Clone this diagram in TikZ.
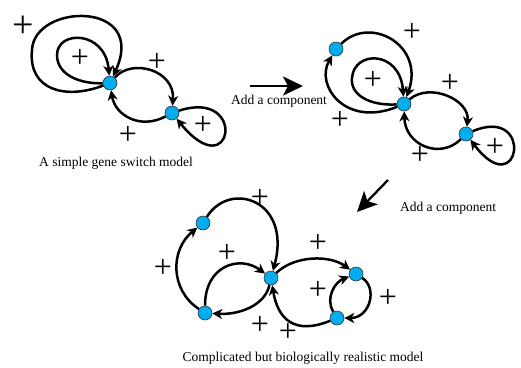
\documentclass[tikz,border=0pt]{standalone}
\usepackage{fontspec}
\setmainfont{Liberation Serif}
\usetikzlibrary{arrows.meta}
\definecolor{genecyan}{RGB}{0,174,239}

\begin{document}
\begin{tikzpicture}[x=1pt, y=-1pt,
    gene/.style={circle, fill=genecyan, draw=black!80, line width=0.6pt, minimum size=14pt, inner sep=0pt},
    link/.style={line width=2.5pt, -{Stealth[length=10pt, width=10pt, inset=3pt]}},
    plus/.style={font=\fontsize{32}{32}\selectfont, inner sep=0pt},
    caption/.style={font=\fontsize{13.5}{14}\selectfont, inner sep=0pt},
    bigarrow/.style={line width=2.3pt, -{Stealth[length=20pt, width=19pt, inset=5pt]}}]
    \useasboundingbox (0,0) rectangle (521,367);

    % Simple switch
    \node[gene] (a1) at (110,83) {};
    \node[gene] (b1) at (172,113) {};
    \draw[link] (a1) .. controls (65,100) and (28,90) .. (32,50)
        .. controls (34,3) and (148,0) .. (a1);
    \draw[link] (a1) .. controls (80,84) and (57,75) .. (57,55)
        .. controls (57,30) and (105,30) .. (a1);
    \draw[link] (a1) .. controls (132,58) and (175,70) .. (b1);
    \draw[link] (b1) .. controls (140,130) and (115,115) .. (a1);
    \draw[link] (b1) .. controls (248,88) and (233,188) .. (b1);
    \node[plus, font=\fontsize{38}{38}\selectfont] (p1) at (23,27) {+};
    \node[plus] (p2) at (80,58) {+};
    \node[plus] (p3) at (157,62) {+};
    \node[plus] (p4) at (128,135) {+};
    \node[plus] (p5) at (203,125) {+};
    \node[caption] (cap1) at (116,163) {A simple gene switch model};

    % First step
    \coordinate (s1) at (250,86);
    \coordinate (t1) at (303,86);
    \draw[bigarrow] (s1) -- (t1);
    \node[caption] (add1) at (279,101) {Add a component};

    % Three genes
    \node[gene] (c1) at (336,49) {};
    \node[gene] (d1) at (404,104) {};
    \node[gene] (e1) at (466,134) {};
    \draw[link] (c1) .. controls (370,15) and (425,45) .. (d1);
    \draw[link] (d1) .. controls (370,106) and (350,95) .. (352,78)
        .. controls (354,50) and (400,50) .. (d1);
    \draw[link] (d1) .. controls (345,128) and (315,85) .. (c1);
    \draw[link] (d1) .. controls (430,82) and (470,100) .. (e1);
    \draw[link] (e1) .. controls (440,160) and (405,145) .. (d1);
    \draw[link] (e1) .. controls (535,105) and (520,205) .. (e1);
    \node[plus] (p6) at (412,32) {+};
    \node[plus] (p7) at (373,80) {+};
    \node[plus] (p8) at (450,83) {+};
    \node[plus] (p9) at (340,120) {+};
    \node[plus] (p10) at (420,155) {+};
    \node[plus] (p11) at (495,147) {+};

    % Second step
    \coordinate (s2) at (388,180);
    \coordinate (t2) at (357,212);
    \draw[bigarrow] (s2) -- (t2);
    \node[caption] (add2) at (448,208) {Add a component};

    % Realistic model
    \node[gene] (f1) at (203,223) {};
    \node[gene] (g1) at (271,278) {};
    \node[gene] (h1) at (205,313) {};
    \node[gene] (i1) at (356,274) {};
    \node[gene] (j1) at (337,318) {};
    \draw[link] (f1) .. controls (230,180) and (292,200) .. (g1);
    \draw[link] (h1) .. controls (170,290) and (170,250) .. (f1);
    \draw[link] (h1) .. controls (205,265) and (240,255) .. (g1);
    \draw[link] (g1) .. controls (265,305) and (240,315) .. (h1);
    \draw[link] (g1) .. controls (295,255) and (330,255) .. (i1);
    \draw[link] (j1) .. controls (295,335) and (278,320) .. (g1);
    \draw[link] (j1) .. controls (325,298) and (335,282) .. (i1);
    \draw[link] (i1) .. controls (378,288) and (370,318) .. (j1);
    \node[plus] (p12) at (260,198) {+};
    \node[plus] (p13) at (227,253) {+};
    \node[plus] (p14) at (163,268) {+};
    \node[plus] (p15) at (318,243) {+};
    \node[plus] (p16) at (318,290) {+};
    \node[plus] (p17) at (388,298) {+};
    \node[plus] (p18) at (260,325) {+};
    \node[plus] (p19) at (288,332) {+};
    \node[caption] (cap3) at (303,358) {Complicated but biologically realistic model};
\end{tikzpicture}
\end{document}
